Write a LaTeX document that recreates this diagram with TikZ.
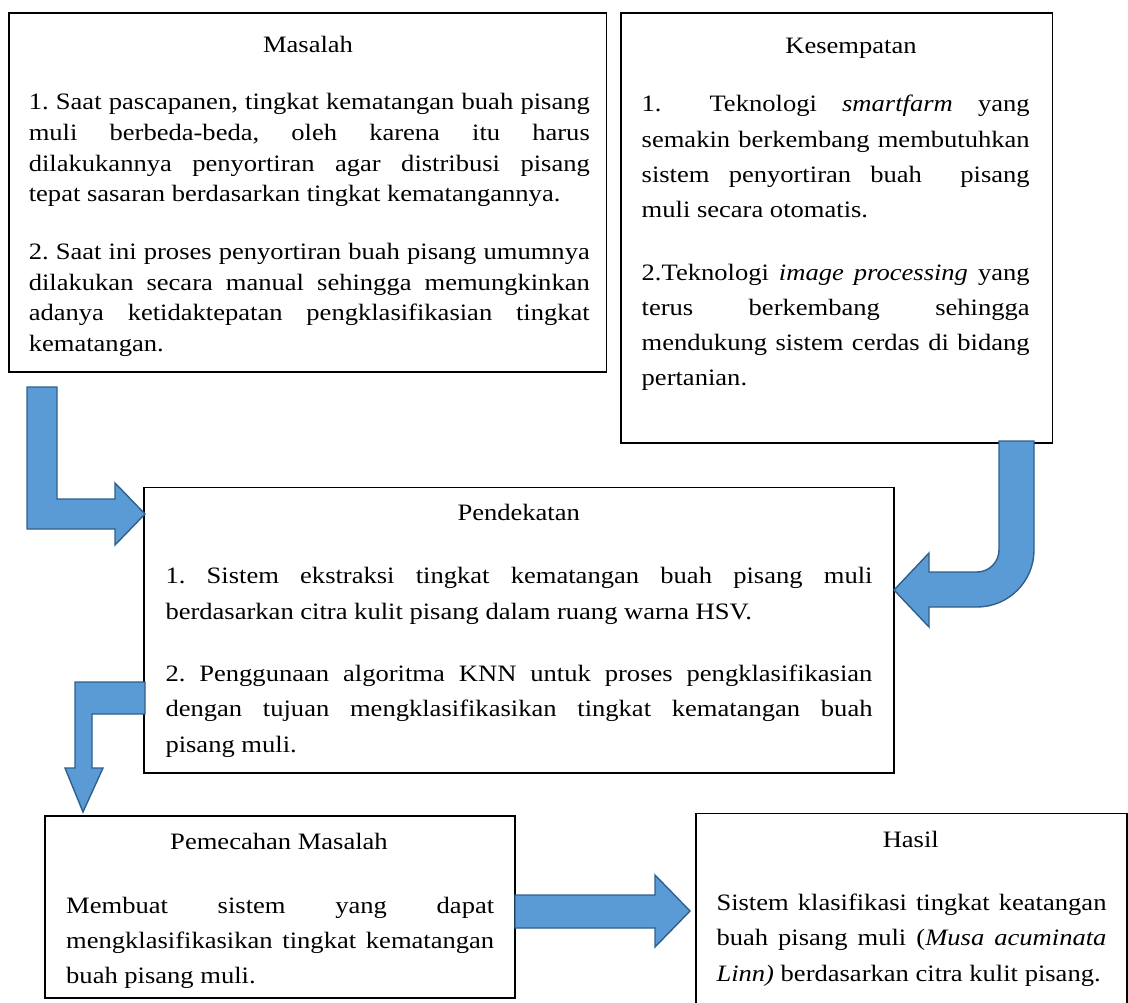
\documentclass[tikz,border=0pt]{standalone}
\usepackage{fontspec}
\setmainfont{Liberation Serif}[FakeStretch=1.13]
\definecolor{arrfill}{HTML}{5B9BD5}
\definecolor{arrline}{HTML}{2F5F8C}
\newcommand{\Jl}[1]{\makebox[\linewidth][s]{#1}\\}
\frenchspacing
\tikzset{
  box/.style={draw=black, line width=1.8pt, anchor=north west, inner sep=0pt, outer sep=0pt, fill=white},
  txt/.style={anchor=base west, inner sep=0pt, outer sep=0pt},
  ttl/.style={anchor=base, inner sep=0pt, outer sep=0pt, font=\fontsize{23.5}{28}\selectfont},
  blockarrow/.style={fill=arrfill, draw=arrline, line width=1.4pt, line join=miter}
}
\begin{document}
\begin{tikzpicture}[x=1pt,y=-1pt]
\useasboundingbox (0,0) rectangle (1128,1003);
% boxes
\node[box, minimum width=597.9pt, minimum height=359.2pt] (masalah) at (8.6,12.8) {};
\node[box, minimum width=431.6pt, minimum height=429.8pt] (kesempatan) at (620.9,12.8) {};
\node[box, minimum width=750.3pt, minimum height=285.5pt] (pendekatan) at (143.9,487.5) {};
\node[box, minimum width=470.4pt, minimum height=182pt] (pemecahan) at (44.6,816) {};
\node[box, minimum width=430.9pt, minimum height=210pt] (hasil) at (695.7,813.4) {};

% Masalah
\node[ttl] (mt) at (308,52.5) {Masalah};
\node[txt] (m1) at (28.8,110) {\parbox[t]{561pt}{\fontsize{23.5}{30.6}\selectfont\frenchspacing
\Jl{1. Saat pascapanen, tingkat kematangan buah pisang}
\Jl{muli berbeda-beda, oleh karena itu harus}
\Jl{dilakukannya penyortiran agar distribusi pisang}
tepat sasaran berdasarkan tingkat kematangannya.}};
\node[txt] (m2) at (28.8,259.5) {\parbox[t]{561pt}{\fontsize{23.5}{30.6}\selectfont\frenchspacing
\Jl{2. Saat ini proses penyortiran buah pisang umumnya}
\Jl{dilakukan secara manual sehingga memungkinkan}
\Jl{adanya ketidaktepatan pengklasifikasian tingkat}
kematangan.}};

% Kesempatan
\node[ttl] (kt) at (851,53.5) {Kesempatan};
\node[txt] (k1) at (641.7,112) {\parbox[t]{388pt}{\fontsize{23.5}{35.3}\selectfont\frenchspacing
\Jl{1.\hspace{48pt}Teknologi \textit{smartfarm} yang}
\Jl{semakin berkembang membutuhkan}
\Jl{sistem penyortiran buah \ pisang}
muli secara otomatis.}};
\node[txt] (k2) at (641.7,280) {\parbox[t]{388pt}{\fontsize{23.5}{35.3}\selectfont\frenchspacing
\Jl{2.Teknologi \textit{image processing} yang}
\Jl{terus berkembang sehingga}
\Jl{mendukung sistem cerdas di bidang}
pertanian.}};

% Pendekatan
\node[ttl] (pt) at (518.7,520.5) {Pendekatan};
\node[txt] (p1) at (165.5,583.5) {\parbox[t]{707pt}{\fontsize{23.5}{35.6}\selectfont\frenchspacing
\Jl{1. Sistem ekstraksi tingkat kematangan buah pisang muli}
berdasarkan citra kulit pisang dalam ruang warna HSV.}};
\node[txt] (p2) at (165.5,681) {\parbox[t]{707pt}{\fontsize{23.5}{35.9}\selectfont\frenchspacing
\Jl{2. Penggunaan algoritma KNN untuk proses pengklasifikasian}
\Jl{dengan tujuan mengklasifikasikan tingkat kematangan buah}
pisang muli.}};

% Pemecahan Masalah
\node[ttl] (qt) at (279,849.5) {Pemecahan Masalah};
\begin{scope}
\clip (44.6,816) rectangle (515,990);
\node[txt] (q1) at (66.2,913.5) {\parbox[t]{428pt}{\fontsize{23.5}{34.8}\selectfont\frenchspacing
\Jl{Membuat sistem yang dapat}
\Jl{mengklasifikasikan tingkat kematangan}
buah pisang muli.}};
\end{scope}

% Hasil
\node[ttl] (ht) at (910.8,847.5) {Hasil};
\node[txt] (h1) at (716.5,910) {\parbox[t]{390pt}{\fontsize{23.5}{35.6}\selectfont\frenchspacing
\Jl{Sistem klasifikasi tingkat keatangan}
\Jl{buah pisang muli (\textit{Musa acuminata}}
\textit{Linn)} berdasarkan citra kulit pisang.}};

% block arrows
\draw[blockarrow] (27,387) -- (57,387) -- (57,499) -- (115,499) -- (115,483) -- (145,514)
  -- (115,545) -- (115,529) -- (27,529) -- cycle;
\draw[blockarrow] (999,441) -- (1034,441) -- (1034,550)
  .. controls (1034,581.5) and (1008.5,607) .. (977,607)
  -- (929,607) -- (929,627) -- (894,590) -- (929,553) -- (929,572) -- (977,572)
  .. controls (989.1,572) and (999,562.1) .. (999,550) -- cycle;
\draw[blockarrow] (145,682) -- (75,682) -- (75,768) -- (65,768) -- (83,812) -- (103,768)
  -- (92,768) -- (92,714) -- (145,714) -- cycle;
\draw[blockarrow] (515,895) -- (655,895) -- (655,875) -- (690,911) -- (655,947) -- (655,928)
  -- (515,928) -- cycle;
\end{tikzpicture}
\end{document}
